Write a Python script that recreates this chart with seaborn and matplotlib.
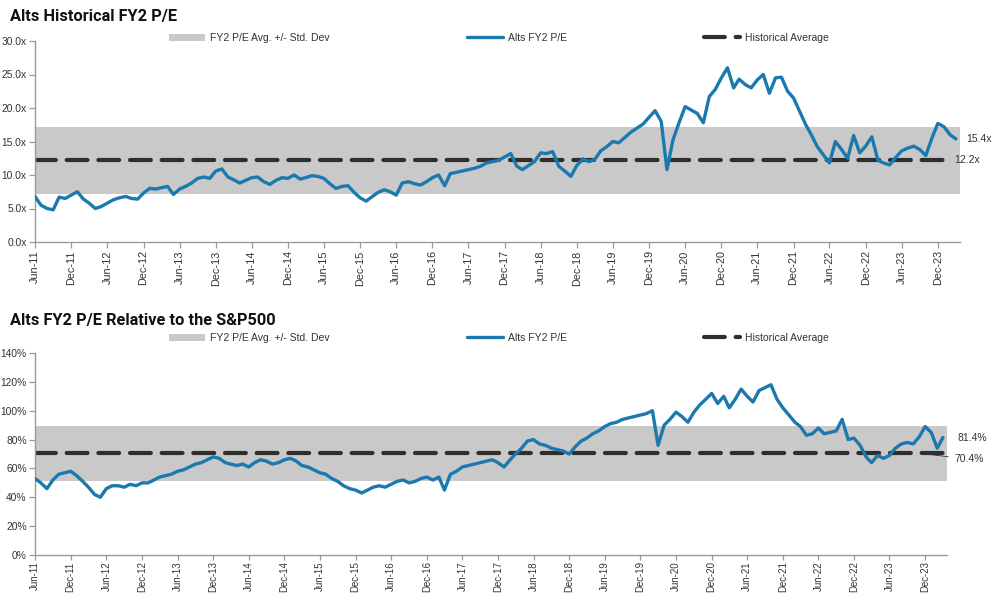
import numpy as np
import pandas as pd
import matplotlib
matplotlib.use("Agg")
import matplotlib.pyplot as plt
import matplotlib.dates as mdates
import matplotlib.ticker as mticker
import seaborn as sns

# monthly series, Jun-2011 .. Mar-2024
dates = pd.date_range("2011-06-01", periods=154, freq="MS")

pe_values = [
    6.8, 5.5, 5.0, 4.8, 6.7, 6.5, 7.0, 7.5, 6.4, 5.8, 5.0, 5.3, 5.8, 6.3, 6.6, 6.8,
    6.5, 6.4, 7.3, 8.0, 7.9, 8.1, 8.3, 7.1, 7.9, 8.3, 8.8, 9.5, 9.7, 9.5, 10.6, 10.9,
    9.7, 9.3, 8.8, 9.2, 9.6, 9.7, 9.0, 8.6, 9.2, 9.6, 9.5, 10.0, 9.4, 9.6, 9.9, 9.8,
    9.5, 8.7, 8.0, 8.3, 8.4, 7.4, 6.6, 6.1, 6.8, 7.4, 7.8, 7.5, 7.0, 8.8, 9.0, 8.7,
    8.5, 9.0, 9.6, 10.0, 8.4, 10.2, 10.4, 10.6, 10.8, 11.0, 11.3, 11.8, 12.0, 12.2, 12.7, 13.2,
    11.3, 10.8, 11.4, 12.0, 13.3, 13.2, 13.5, 11.3, 10.6, 9.8, 11.4, 12.4, 12.0, 12.3, 13.6, 14.2,
    15.0, 14.8, 15.6, 16.4, 17.0, 17.6, 18.6, 19.6, 18.0, 10.8, 15.3, 17.8, 20.2, 19.7, 19.2, 17.8,
    21.7, 22.8, 24.5, 26.0, 23.0, 24.3, 23.5, 23.0, 24.2, 25.0, 22.2, 24.5, 24.6, 22.5, 21.5, 19.5,
    17.5, 16.0, 14.2, 13.0, 11.8, 15.0, 13.8, 12.5, 15.9, 13.3, 14.3, 15.7, 12.2, 11.8, 11.5, 12.6,
    13.6, 14.0, 14.3, 13.8, 12.9, 15.5, 17.7, 17.2, 16.0, 15.4,
]
pe_avg = 12.2
pe_std = 5.0

rel_values = [
    53, 50, 46, 52, 56, 57, 58, 55, 51, 47, 42, 40, 46, 48, 48, 47,
    49, 48, 50, 50, 52, 54, 55, 56, 58, 59, 61, 63, 64, 66, 68, 67,
    64, 63, 62, 63, 61, 64, 66, 65, 63, 64, 66, 67, 65, 62, 61, 59,
    57, 56, 53, 51, 48, 46, 45, 43, 45, 47, 48, 47, 49, 51, 52, 50,
    51, 53, 54, 52, 54, 45, 56, 58, 61, 62, 63, 64, 65, 66, 64, 61,
    66, 70, 74, 79, 80, 77, 76, 74, 73, 72, 70, 75, 79, 81, 84, 86,
    89, 91, 92, 94, 95, 96, 97, 98, 100, 76, 90, 94, 99, 96, 92, 99,
    104, 108, 112, 105, 110, 102, 108, 115, 110, 106, 114, 116, 118, 108, 102, 97,
    92, 89, 83, 84, 88, 84, 85, 86, 94, 80, 81, 76, 68, 64, 69, 67,
    69, 74, 77, 78, 77, 82, 89, 85, 74, 81.4,
]
rel_avg = 70.4
rel_std = 19.0

tick_dates = pd.date_range("2011-06-01", "2023-12-01", freq="6MS")
x_end = pd.Timestamp("2024-03-22")

df_pe = pd.DataFrame({"date": dates, "value": pe_values})
df_rel = pd.DataFrame({"date": dates, "value": rel_values})

sns.set_style("white")
plt.rcParams["font.family"] = ["Liberation Sans", "DejaVu Sans"]

BLUE = "#1b79ae"
BAND = "#c9c9c9"
DASH = "#2e2e2e"
SPINE = "#9a9a9a"
TXT = "#333333"

fig = plt.figure(figsize=(9.92, 5.95), dpi=100)
ax1 = fig.add_axes([35 / 992, 1 - 242 / 595, 925 / 992, 201 / 595])
ax2 = fig.add_axes([35 / 992, 1 - 555 / 595, 912 / 992, 202 / 595])


def draw_panel(ax, df, avg, std, ylim, ystep, fmt, dash_end, legend_y, xsize):
    ax.axhspan(avg - std, avg + std, color=BAND, lw=0, zorder=1,
               label="FY2 P/E Avg. +/- Std. Dev")
    sns.lineplot(data=df, x="date", y="value", ax=ax, color=BLUE, lw=2.4,
                 zorder=3, label="Alts FY2 P/E")
    ax.axhline(avg, xmax=dash_end, color=DASH, lw=3.0, dashes=(5.0, 2.6),
               dash_capstyle="round", zorder=2, label="Historical Average")
    ax.set_xlim(dates[0], x_end)
    ax.set_ylim(*ylim)
    ax.yaxis.set_major_locator(mticker.MultipleLocator(ystep))
    ax.yaxis.set_major_formatter(mticker.FuncFormatter(fmt))
    ax.set_xticks(tick_dates)
    ax.xaxis.set_major_formatter(mdates.DateFormatter("%b-%y"))
    ax.set_xlabel("")
    ax.set_ylabel("")
    for s in ["top", "right"]:
        ax.spines[s].set_visible(False)
    for s in ["left", "bottom"]:
        ax.spines[s].set_color(SPINE)
        ax.spines[s].set_linewidth(1.0)
    ax.tick_params(axis="both", which="major", direction="out", length=4,
                   width=0.9, color=SPINE, labelcolor=TXT, pad=2,
                   left=True, bottom=True)
    ax.tick_params(axis="y", labelsize=7.4)
    ax.tick_params(axis="x", labelsize=xsize)
    plt.setp(ax.get_xticklabels(), rotation=90)
    ax.legend(loc="center left", bbox_to_anchor=(160 / 992, 1 - legend_y / 595),
              bbox_transform=fig.transFigure, ncol=3, frameon=False,
              fontsize=7.5, handlelength=3.4, columnspacing=13.2,
              handletextpad=0.5, labelcolor=TXT)


draw_panel(ax1, df_pe, pe_avg, pe_std, (0, 30), 5, lambda v, p: f"{v:.1f}x", 0.988, 38, 7.8)
draw_panel(ax2, df_rel, rel_avg, rel_std, (0, 140), 20, lambda v, p: f"{v:.0f}%", 1.0, 338, 6.9)
ax2.tick_params(axis="x", pad=1, length=3.5)

# titles
fig.text(10 / 992, 1 - 17 / 595, "Alts Historical FY2 P/E", family="Roboto",
         fontweight="bold", fontsize=11.8, color="#111111", va="center")
fig.text(10 / 992, 1 - 321 / 595, "Alts FY2 P/E Relative to the S&P500", family="Roboto",
         fontweight="bold", fontsize=11.8, color="#111111", va="center")

# end labels
tr1 = ax1.get_yaxis_transform()
ax1.text(1.007, pe_values[-1], f"{pe_values[-1]:.1f}x", transform=tr1,
         fontsize=7.5, color=TXT, va="center", ha="left")
ax1.text(0.994, pe_avg, f"{pe_avg:.1f}x", transform=tr1,
         fontsize=7.5, color=TXT, va="center", ha="left")

tr2 = ax2.get_yaxis_transform()
ax2.text(1.011, rel_values[-1], f"{rel_values[-1]:.1f}%", transform=tr2,
         fontsize=7.5, color=TXT, va="center", ha="left")
ax2.annotate(f"{rel_avg:.1f}%", xy=(0.971, rel_avg), xycoords=tr2,
             xytext=(1.008, rel_avg - 4), textcoords=tr2,
             fontsize=7.5, color=TXT, va="center", ha="left",
             arrowprops=dict(arrowstyle="-", color=TXT, lw=0.6, shrinkA=2, shrinkB=0))

fig.savefig("out.png", dpi=100)
